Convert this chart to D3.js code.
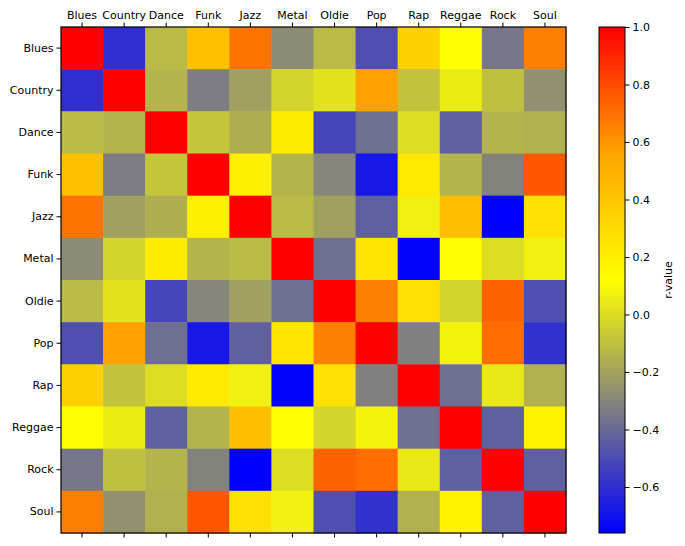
<!DOCTYPE html>
<html><head><meta charset="utf-8">
<script src="https://cdn.jsdelivr.net/npm/d3@7"></script>
<style>body{margin:0;background:#fff}text{font-family:"DejaVu Sans",sans-serif}</style>
</head><body><svg id="c" width="685" height="546"></svg>
<script>
const genres = ["Blues","Country","Dance","Funk","Jazz","Metal","Oldie","Pop","Rap","Reggae","Rock","Soul"];
const rBlues   = [1.00,-0.60,-0.12, 0.43, 0.69,-0.28,-0.12,-0.49, 0.35, 0.12,-0.35, 0.66];
const rCountry = [-0.60,1.00,-0.14,-0.33,-0.21,-0.03, 0.02, 0.57,-0.09, 0.05,-0.10,-0.26];
const rDance   = [-0.12,-0.14,1.00,-0.08,-0.16, 0.22,-0.52,-0.38, 0.00,-0.43,-0.14,-0.15];
const rFunk    = [0.43,-0.33,-0.08,1.00, 0.20,-0.14,-0.30,-0.68, 0.23,-0.14,-0.31, 0.77];
const rJazz    = [0.69,-0.21,-0.16, 0.20,1.00,-0.12,-0.21,-0.43, 0.07, 0.44,-0.76, 0.27];
const rMetal   = [-0.28,-0.03,0.22,-0.14,-0.12,1.00,-0.38, 0.25,-0.75, 0.13, 0.00, 0.07];
const rOldie   = [-0.12,0.02,-0.52,-0.30,-0.21,-0.38,1.00, 0.66, 0.27,-0.03, 0.74,-0.485];
const rPop     = [-0.49,0.57,-0.38,-0.68,-0.43, 0.25, 0.66,1.00,-0.32, 0.08, 0.71,-0.59];
const rRap     = [0.35,-0.09,0.00, 0.23, 0.07,-0.75, 0.27,-0.32,1.00,-0.38, 0.04,-0.15];
const rReggae  = [0.12,0.05,-0.43,-0.14, 0.44, 0.13,-0.03, 0.08,-0.38,1.00,-0.43, 0.19];
const rRock    = [-0.35,-0.10,-0.14,-0.31,-0.76, 0.00, 0.74, 0.71, 0.04,-0.43,1.00,-0.43];
const rSoul    = [0.66,-0.26,-0.15, 0.77, 0.27, 0.07,-0.485,-0.59,-0.15, 0.19,-0.43,1.00];
const matrix = [rBlues,rCountry,rDance,rFunk,rJazz,rMetal,rOldie,rPop,rRap,rReggae,rRock,rSoul];
const cbTicks = [-0.6,-0.4,-0.2,0.0,0.2,0.4,0.6,0.8,1.0];
const cmapColors = ["#0000ff","#808080","#ffff00","#ffa500","#ff0000"];

const svg = d3.select("#c");
const L = 61, R = 566, T = 27, B = 533;
const x = d3.scaleBand().domain(genres).range([L, R]);
const y = d3.scaleBand().domain(genres).range([T, B]);
const vmin = d3.min(matrix.flat()), vmax = d3.max(matrix.flat());
const stops = cmapColors.map((c,i)=>vmin + (vmax-vmin)*i/(cmapColors.length-1));
const color = d3.scaleLinear().domain(stops).range(cmapColors).interpolate(d3.interpolateRgb).clamp(true);

const cells = [];
matrix.forEach((row,i)=>row.forEach((v,j)=>cells.push({r:genres[i],c:genres[j],v})));
svg.append("g").selectAll("rect").data(cells).join("rect")
  .attr("x",d=>x(d.c)).attr("y",d=>y(d.r))
  .attr("width",x.bandwidth()+0.5).attr("height",y.bandwidth()+0.5)
  .attr("fill",d=>color(d.v));

svg.append("rect").attr("x",L).attr("y",T).attr("width",R-L).attr("height",B-T)
  .attr("fill","none").attr("stroke","#000").attr("stroke-width",1.2);

function styleAxis(g){
  g.select(".domain").remove();
  g.selectAll("text").attr("font-size",11).attr("fill","#000").attr("font-family","DejaVu Sans");
  g.selectAll("line").attr("stroke","#000");
}
svg.append("g").attr("transform",`translate(0,${T})`)
  .call(d3.axisTop(x).tickSize(4.5).tickPadding(4)).call(styleAxis);
svg.append("g").attr("transform",`translate(0,${B})`)
  .call(d3.axisBottom(x).tickSize(4.5).tickFormat("")).call(styleAxis);
svg.append("g").attr("transform",`translate(${L},0)`)
  .call(d3.axisLeft(y).tickSize(4.5).tickPadding(3)).call(styleAxis);

// colorbar
const cbL = 599, cbR = 625;
const cy = d3.scaleLinear().domain([vmin, vmax]).range([B, T]);
const defs = svg.append("defs");
const grad = defs.append("linearGradient").attr("id","cb").attr("x1",0).attr("y1",1).attr("x2",0).attr("y2",0);
stops.forEach((s,i)=>grad.append("stop").attr("offset",(s-vmin)/(vmax-vmin)).attr("stop-color",cmapColors[i]));
svg.append("rect").attr("x",cbL).attr("y",T).attr("width",cbR-cbL).attr("height",B-T)
  .attr("fill","url(#cb)").attr("stroke","#000").attr("stroke-width",1);
const fmt = d=> (d<0?"\u2212":"") + Math.abs(d).toFixed(1);
svg.append("g").attr("transform",`translate(${cbR},0)`)
  .call(d3.axisRight(cy).tickValues(cbTicks).tickFormat(fmt).tickSize(4.5).tickPadding(3)).call(styleAxis);
svg.append("text").attr("transform",`translate(672,${(T+B)/2}) rotate(-90)`)
  .attr("text-anchor","middle").attr("font-size",11).text("r-value");
</script></body></html>
